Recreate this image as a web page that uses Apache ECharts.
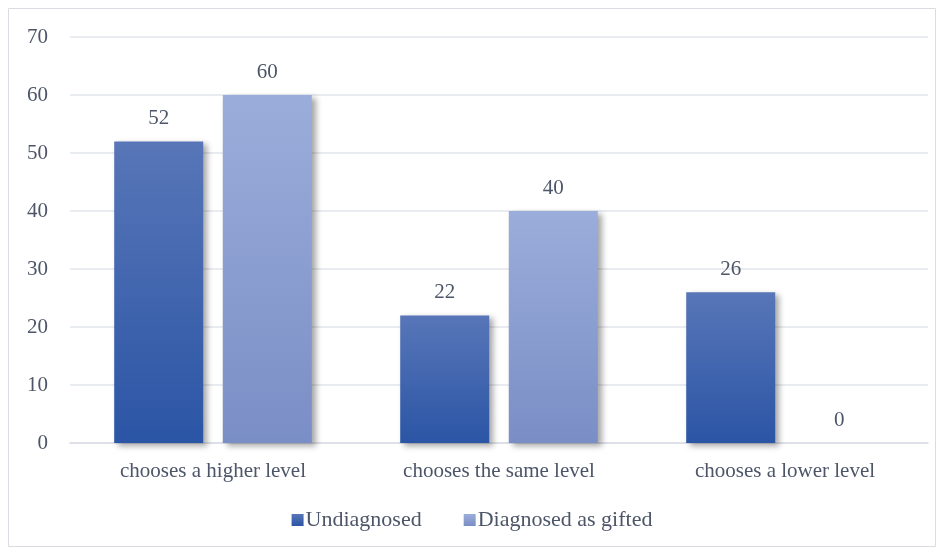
<!DOCTYPE html>
<html><head><meta charset="utf-8">
<script src="https://cdn.jsdelivr.net/npm/echarts@6/dist/echarts.min.js"></script>
<style>html,body{margin:0;padding:0;background:#fff}#c{width:944px;height:555px}</style>
</head><body><div id="c"></div>
<script>
const categories = ['chooses a higher level', 'chooses the same level', 'chooses a lower level'];
const undiagnosed = [52, 22, 26];
const diagnosedGifted = [60, 40, 0];
const seriesNames = ['Undiagnosed', 'Diagnosed as gifted'];

const font = '"Liberation Serif", "DejaVu Serif", serif';
const textColor = '#4d5669';
const chart = echarts.init(document.getElementById('c'));
function grad(top, bottom) {
  return new echarts.graphic.LinearGradient(0, 0, 0, 1, [{offset: 0, color: top}, {offset: 1, color: bottom}]);
}
const labelStyle = {show: true, position: 'top', distance: 12, color: textColor, fontFamily: font, fontSize: 21};
chart.setOption({
  animation: false,
  graphic: [{type: 'rect', shape: {x: 8.5, y: 8.5, width: 927, height: 538}, style: {fill: 'none', stroke: '#d9dde3', lineWidth: 1}}],
  grid: {left: 70, right: 16, top: 37, bottom: 112},
  legend: {
    bottom: 19, left: 'center', itemWidth: 12, itemHeight: 12, itemGap: 42,
    icon: 'rect',
    textStyle: {color: textColor, fontFamily: font, fontSize: 22, padding: [0, 0, 0, -3]},
    data: seriesNames
  },
  xAxis: {
    type: 'category', data: categories,
    axisLine: {lineStyle: {color: '#d9dde3', width: 1.5}},
    axisTick: {show: false},
    axisLabel: {color: textColor, fontFamily: font, fontSize: 21, margin: 18}
  },
  yAxis: {
    type: 'value', min: 0, max: 70, interval: 10,
    axisLine: {show: false}, axisTick: {show: false},
    splitLine: {lineStyle: {color: '#e1e4ea', width: 1.5}},
    axisLabel: {color: textColor, fontFamily: font, fontSize: 21, margin: 22}
  },
  series: [
    {name: seriesNames[0], type: 'bar', data: undiagnosed, barWidth: 89, barGap: '22%',
     itemStyle: {color: grad('#5876b8', '#2b55a5'), shadowBlur: 6, shadowOffsetX: 4, shadowOffsetY: 3, shadowColor: 'rgba(0,0,0,0.35)'},
     label: labelStyle},
    {name: seriesNames[1], type: 'bar', data: diagnosedGifted, barWidth: 89,
     itemStyle: {color: grad('#9badda', '#7a8ec6'), shadowBlur: 6, shadowOffsetX: 4, shadowOffsetY: 3, shadowColor: 'rgba(0,0,0,0.35)'},
     label: labelStyle}
  ]
});
</script></body></html>
